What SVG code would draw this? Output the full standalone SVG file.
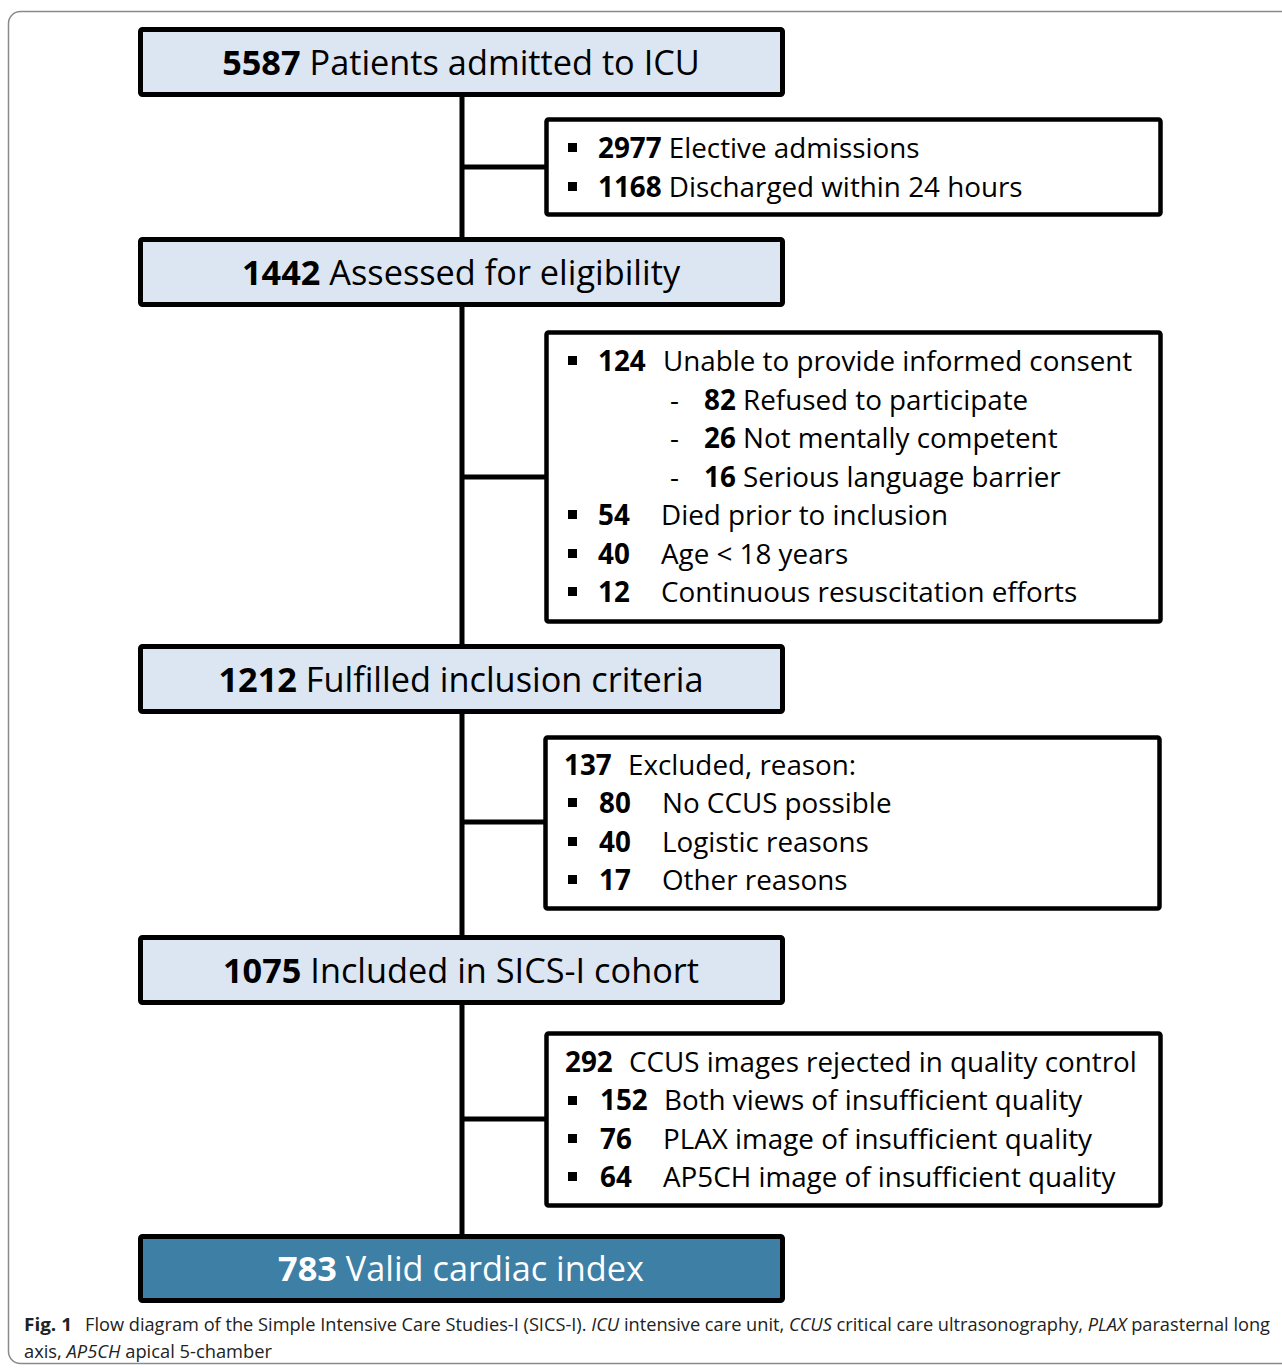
<svg xmlns="http://www.w3.org/2000/svg" width="1282" height="1368" viewBox="0 0 1282 1368">
<style>
.frame{fill:#fff;stroke:#8a8a8a;stroke-width:1.5}
.main{fill:#dce6f2;stroke:#000;stroke-width:5}
.final{fill:#3d7fa5;stroke:#000;stroke-width:5}
.side{fill:#fff;stroke:#000;stroke-width:4.5}
.conn{stroke:#000;stroke-width:5;fill:none}
.mt{font-family:"Open Sans","Liberation Sans",sans-serif;font-size:34.3px;fill:#000;text-anchor:middle}
.st{font-family:"Open Sans","Liberation Sans",sans-serif;font-size:27.8px;fill:#000}
.b{font-weight:bold}
.w{fill:#fff}
.cap{font-family:"Open Sans","Liberation Sans",sans-serif;font-size:18px;fill:#222}
.i{font-style:italic}
</style>
<defs>
<rect id="bul" width="9" height="9" fill="#000"/>
</defs>
<rect class="frame" x="8.5" y="11.5" width="1300" height="1352" rx="12"/>
<g id="connectors">
<line class="conn" x1="462" y1="96" x2="462" y2="1236"/>
<line class="conn" x1="462" y1="167" x2="547" y2="167"/>
<line class="conn" x1="462" y1="477" x2="547" y2="477"/>
<line class="conn" x1="462" y1="822" x2="546" y2="822"/>
<line class="conn" x1="462" y1="1119" x2="547" y2="1119"/>
</g>
<g id="n5587">
<rect class="main" x="140.5" y="29.5" width="642" height="65" rx="2"/>
<text class="mt" x="461" y="75"><tspan class="b">5587</tspan> Patients admitted to ICU</text>
</g>
<g id="excl1">
<rect class="side" x="546.5" y="119.5" width="614" height="95" rx="2"/>
<use href="#bul" x="568" y="143"/>
<use href="#bul" x="568" y="182"/>
<text class="st" x="598" y="158"><tspan class="b">2977</tspan> Elective admissions</text>
<text class="st" x="598" y="197"><tspan class="b">1168</tspan> Discharged within 24 hours</text>
</g>
<g id="n1442">
<rect class="main" x="140.5" y="239.5" width="642" height="65" rx="2"/>
<text class="mt" x="461" y="285"><tspan class="b">1442</tspan> Assessed for eligibility</text>
</g>
<g id="excl2">
<rect class="side" x="546.5" y="332.5" width="614" height="289" rx="2"/>
<use href="#bul" x="568" y="356"/>
<text class="st b" x="598" y="371">124</text>
<text class="st" x="663" y="371">Unable to provide informed consent</text>
<text class="st" x="670" y="410">-</text>
<text class="st" x="704" y="410"><tspan class="b">82</tspan> Refused to participate</text>
<text class="st" x="670" y="448">-</text>
<text class="st" x="704" y="448"><tspan class="b">26</tspan> Not mentally competent</text>
<text class="st" x="670" y="487">-</text>
<text class="st" x="704" y="487"><tspan class="b">16</tspan> Serious language barrier</text>
<use href="#bul" x="568" y="510"/>
<text class="st b" x="598" y="525">54</text>
<text class="st" x="661" y="525">Died prior to inclusion</text>
<use href="#bul" x="568" y="549"/>
<text class="st b" x="598" y="564">40</text>
<text class="st" x="661" y="564">Age &lt; 18 years</text>
<use href="#bul" x="568" y="587"/>
<text class="st b" x="598" y="602">12</text>
<text class="st" x="661" y="602">Continuous resuscitation efforts</text>
</g>
<g id="n1212">
<rect class="main" x="140.5" y="646.5" width="642" height="65" rx="2"/>
<text class="mt" x="461" y="692"><tspan class="b">1212</tspan> Fulfilled inclusion criteria</text>
</g>
<g id="excl3">
<rect class="side" x="545.5" y="737.5" width="614" height="171" rx="2"/>
<text class="st b" x="564" y="775">137</text>
<text class="st" x="628" y="775">Excluded, reason:</text>
<use href="#bul" x="568" y="798"/>
<text class="st b" x="599" y="813">80</text>
<text class="st" x="662" y="813">No CCUS possible</text>
<use href="#bul" x="568" y="837"/>
<text class="st b" x="599" y="852">40</text>
<text class="st" x="662" y="852">Logistic reasons</text>
<use href="#bul" x="568" y="875"/>
<text class="st b" x="599" y="890">17</text>
<text class="st" x="662" y="890">Other reasons</text>
</g>
<g id="n1075">
<rect class="main" x="140.5" y="937.5" width="642" height="65" rx="2"/>
<text class="mt" x="461" y="983"><tspan class="b">1075</tspan> Included in SICS-I cohort</text>
</g>
<g id="excl4">
<rect class="side" x="546.5" y="1033.5" width="614" height="172" rx="2"/>
<text class="st b" x="565" y="1072">292</text>
<text class="st" x="629" y="1072">CCUS images rejected in quality control</text>
<use href="#bul" x="568" y="1096"/>
<text class="st b" x="600" y="1110">152</text>
<text class="st" x="664" y="1110">Both views of insufficient quality</text>
<use href="#bul" x="568" y="1134"/>
<text class="st b" x="600" y="1149">76</text>
<text class="st" x="663" y="1149">PLAX image of insufficient quality</text>
<use href="#bul" x="568" y="1172"/>
<text class="st b" x="600" y="1187">64</text>
<text class="st" x="663" y="1187">AP5CH image of insufficient quality</text>
</g>
<g id="n783">
<rect class="final" x="140.5" y="1236.5" width="642" height="64" rx="2"/>
<text class="mt w" x="461" y="1281"><tspan class="b">783</tspan> Valid cardiac index</text>
</g>
<g id="caption">
<text class="cap b" x="24" y="1331" textLength="48" lengthAdjust="spacingAndGlyphs">Fig. 1</text>
<text class="cap" x="85" y="1331" textLength="1185" lengthAdjust="spacingAndGlyphs">Flow diagram of the Simple Intensive Care Studies-I (SICS-I). <tspan class="i">ICU</tspan> intensive care unit, <tspan class="i">CCUS</tspan> critical care ultrasonography, <tspan class="i">PLAX</tspan> parasternal long</text>
<text class="cap" x="24" y="1358" textLength="248" lengthAdjust="spacingAndGlyphs">axis, <tspan class="i">AP5CH</tspan> apical 5-chamber</text>
</g>
</svg>
